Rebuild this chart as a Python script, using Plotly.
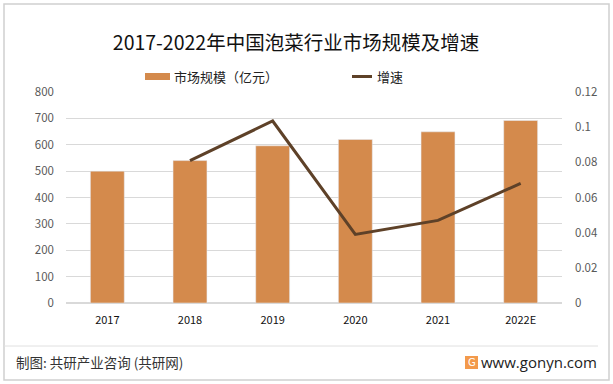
import plotly.graph_objects as go

years = ["2017", "2018", "2019", "2020", "2021", "2022E"]
market_size = [500, 540, 596, 620, 649, 692]
growth_years = ["2018", "2019", "2020", "2021", "2022E"]
growth = [0.081, 0.1035, 0.039, 0.047, 0.068]

W, H = 613, 384
L, R, T, B = 66, 51, 92, 81
pw, ph = W - L - R, H - T - B

def px(x):
    return (x - L) / pw

def py(y):
    return (H - B - y) / ph

BAR_C = "#D48A4C"
LINE_C = "#5E4128"

fig = go.Figure()
fig.add_trace(go.Bar(x=years, y=market_size, name="市场规模（亿元）",
                     marker=dict(color=BAR_C), yaxis="y", showlegend=False))
fig.add_trace(go.Scatter(x=growth_years, y=growth, name="增速", mode="lines",
                         line=dict(color=LINE_C, width=3), yaxis="y2", showlegend=False))

fig.update_layout(
    width=W, height=H,
    margin=dict(l=L, r=R, t=T, b=B),
    paper_bgcolor="white", plot_bgcolor="white",
    font=dict(family="Noto Sans CJK SC, sans-serif", color="#333333"),
    title=dict(text="2017-2022年中国泡菜行业市场规模及增速", x=px(296), xanchor="center",
               xref="paper", y=1 - 43 / H, yanchor="middle",
               font=dict(size=19.5, color="#111111")),
    bargap=0.59,
    showlegend=False,
    xaxis=dict(type="category", showgrid=False, showline=False, ticks="",
               tickfont=dict(size=11, color="#111111"), ticklabelstandoff=9),
    yaxis=dict(range=[0, 800], dtick=100, showgrid=True, gridcolor="#D9D9D9", gridwidth=1,
               zeroline=True, zerolinecolor="#D9D9D9", showline=False,
               tickfont=dict(size=11.5, color="#595959"), ticklabelstandoff=11),
    yaxis2=dict(range=[0, 0.12], dtick=0.02, overlaying="y", side="right", showgrid=False,
                zeroline=False, showline=False, tickformat="~g",
                tickfont=dict(size=11.5, color="#595959"), ticklabelstandoff=12),
    shapes=[
        dict(type="rect", xref="paper", yref="paper", x0=px(4), x1=px(609), y0=py(380), y1=py(4),
             line=dict(color="#D0D0D0", width=1.5)),
        dict(type="line", xref="paper", yref="paper", x0=px(4), x1=px(598), y0=py(346), y1=py(346),
             line=dict(color="#E0E0E0", width=1)),
        dict(type="rect", xref="paper", yref="paper", x0=px(465), x1=px(478), y0=py(369), y1=py(356),
             line=dict(width=0), fillcolor="#F39A4B"),
        # legend swatches
        dict(type="rect", xref="paper", yref="paper", x0=px(145), x1=px(170), y0=py(80), y1=py(73),
             line=dict(width=0), fillcolor=BAR_C),
        dict(type="line", xref="paper", yref="paper", x0=px(352), x1=px(372), y0=py(76.5), y1=py(76.5),
             line=dict(color=LINE_C, width=3)),
    ],
    annotations=[
        dict(text="市场规模（亿元）", xref="paper", yref="paper", x=px(172), y=py(76),
             xanchor="left", yanchor="middle", showarrow=False,
             font=dict(size=13, color="#222222")),
        dict(text="增速", xref="paper", yref="paper", x=px(375), y=py(76),
             xanchor="left", yanchor="middle", showarrow=False,
             font=dict(size=13, color="#222222")),
        dict(text="制图: 共研产业咨询 (共研网)", xref="paper", yref="paper", x=px(14), y=py(362),
             xanchor="left", yanchor="middle", showarrow=False,
             font=dict(size=13.5, color="#333333")),
        dict(text="www.gonyn.com", xref="paper", yref="paper", x=px(599), y=py(362),
             xanchor="right", yanchor="middle", showarrow=False,
             font=dict(size=15, color="#222222", family="Open Sans, sans-serif")),
        dict(text="G", xref="paper", yref="paper", x=px(471.5), y=py(362.5),
             xanchor="center", yanchor="middle", showarrow=False,
             font=dict(size=10, color="white", family="DejaVu Sans, sans-serif")),
    ],
)

fig.write_html("out.html", config={"displayModeBar": False},
               post_script="document.body.style.margin='0';document.body.style.overflow='hidden';")
